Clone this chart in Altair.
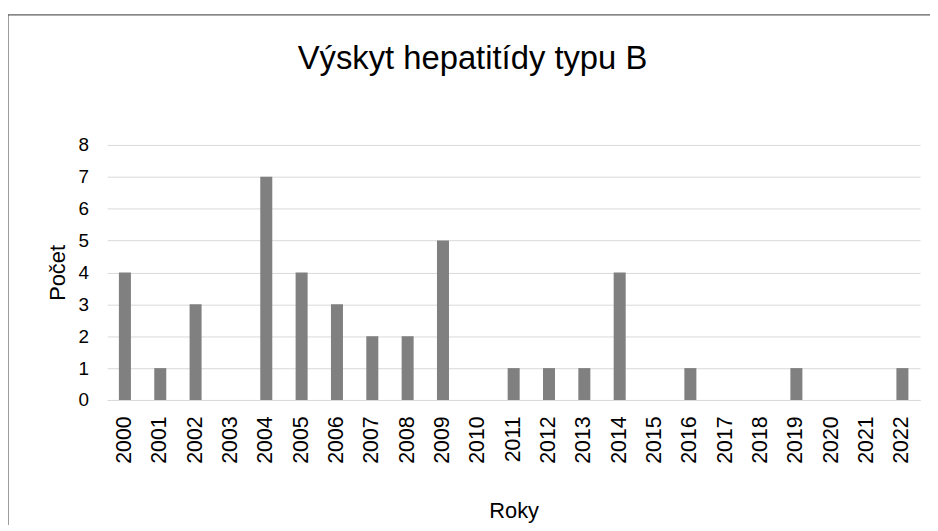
import altair as alt
import pandas as pd

years = [str(y) for y in range(2000, 2023)]
counts = [4, 1, 3, 0, 7, 4, 3, 2, 2, 5, 0, 1, 1, 1, 4, 0, 1, 0, 0, 1, 0, 0, 1]
y_ticks = [0, 1, 2, 3, 4, 5, 6, 7, 8]

df = pd.DataFrame({"Roky": years, "Počet": counts})

W, H = 819, 257

bars = alt.Chart(df).mark_bar(color="#808080").encode(
    x=alt.X("Roky:N", sort=years,
            scale=alt.Scale(paddingInner=0.66, paddingOuter=0.33),
            axis=alt.Axis(title="Roky", labelAngle=-90, labelFontSize=21.5,
                          labelFont="Liberation Sans", labelColor="#000000",
                          labelPadding=16, ticks=False, domain=True,
                          domainColor="#d9d9d9", domainWidth=1,
                          titleFont="Liberation Sans", titleFontSize=22,
                          titleFontWeight="normal", titleColor="#000000",
                          titleY=118, titleBaseline="alphabetic")),
    y=alt.Y("Počet:Q", scale=alt.Scale(domain=[0, 8], nice=False),
            axis=alt.Axis(title="Počet", values=y_ticks, labelFontSize=19,
                          labelFont="Liberation Sans", labelColor="#000000",
                          labelPadding=19, ticks=False, domain=False,
                          grid=True, gridColor="#d9d9d9", gridWidth=1,
                          titleFont="Liberation Sans", titleFontSize=22,
                          titleFontWeight="normal", titleColor="#000000",
                          titleX=-43, titleBaseline="alphabetic")),
)

frame = alt.Chart(pd.DataFrame({"a": [0]})).mark_rect(
    fill=None, stroke="#333333", strokeWidth=1
).encode(
    x=alt.value(-100), x2=alt.value(W + 40),
    y=alt.value(-131), y2=alt.value(H + 200),
)

title_df = pd.DataFrame({"t": ["Výskyt hepatitídy typu B"]})
title = alt.Chart(title_df).mark_text(
    font="Liberation Sans", fontSize=33, color="#000000",
    align="center", baseline="alphabetic"
).encode(text="t:N", x=alt.value(368), y=alt.value(-76))

chart = alt.layer(frame, bars, title).properties(
    width=W, height=H,
    autosize=alt.AutoSizeParams(type="none"),
    padding={"left": 100, "top": 136, "right": 10, "bottom": 124},
).configure_view(stroke=None)

chart.save("out.html", embed_options={"renderer": "svg", "actions": False})
